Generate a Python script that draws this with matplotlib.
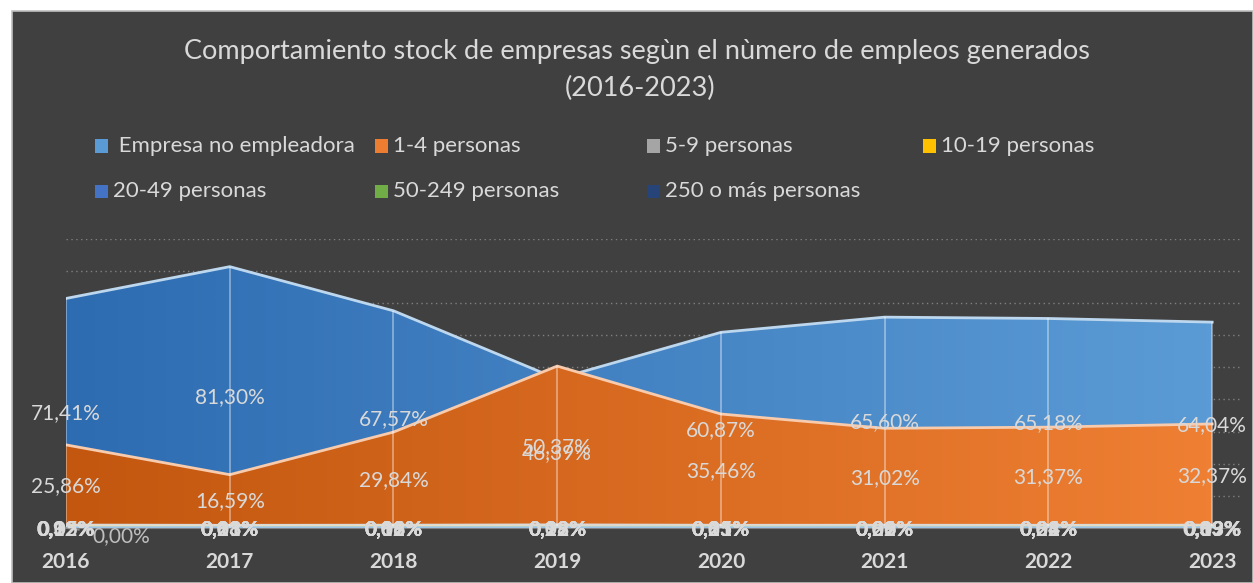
import numpy as np
import matplotlib
matplotlib.use("Agg")
import matplotlib.pyplot as plt
from matplotlib.colors import LinearSegmentedColormap
from matplotlib.patches import Rectangle

years = ["2016", "2017", "2018", "2019", "2020", "2021", "2022", "2023"]
series_names = [" Empresa no empleadora", "1-4 personas", "5-9 personas", "10-19 personas",
                "20-49 personas", "50-249 personas", "250 o más personas"]
no_empleadora = [71.41, 81.30, 67.57, 46.39, 60.87, 65.60, 65.18, 64.04]
p1_4 = [25.86, 16.59, 29.84, 50.37, 35.46, 31.02, 31.37, 32.37]
p5_9 = [0.92, 0.83, 0.88, 0.98, 0.85, 0.86, 0.84, 0.89]
p10_19 = [0.32, 0.28, 0.33, 0.29, 0.31, 0.30, 0.31, 0.33]
p20_49 = [0.12, 0.13, 0.16, 0.22, 0.25, 0.26, 0.21, 0.19]
p50_249 = [0.05, 0.03, 0.09, 0.12, 0.15, 0.09, 0.08, 0.09]
p250 = [0.00, 0.01, 0.02, 0.03, 0.03, 0.02, 0.02, 0.03]
all_series = [no_empleadora, p1_4, p5_9, p10_19, p20_49, p50_249, p250]

legend_colors = ["#5B9BD5", "#ED7D31", "#A5A5A5", "#FFC000", "#4472C4", "#70AD47", "#264478"]
grad_left = ["#2E6CB2", "#C3570F", "#8C8C8C", "#E0A800", "#3A62AA", "#5E9A3A", "#1F3A66"]
grad_right = ["#5B9BD5", "#EE7F33", "#BFBFBF", "#FFD24D", "#5A86D0", "#86C35E", "#33589A"]
edge_colors = ["#BDD7EE", "#F8CBAD", "#D9D9D9", "#FFE699", "#B4C7E7", "#C5E0B4", "#9DC3E6"]

BG = "#404040"
TXT = "#D9D9D9"
W, H = 1253, 583
fig = plt.figure(figsize=(W / 100, H / 100), dpi=100, facecolor="white")
fig.patches.append(Rectangle((12 / W, 0), 1 - 12 / W, 1 - 11 / H, transform=fig.transFigure,
                             facecolor=BG, edgecolor="#BFBFBF", linewidth=1.2, zorder=-10))

left, right = 66 / W, 1240 / W
bottom, top = 1 - 528 / H, 1 - 238.7 / H
ax = fig.add_axes([left, bottom, right - left, top - bottom])
ax.set_zorder(1)
ax.set_facecolor("none")
x = np.arange(len(years))
ax.set_xlim(0, len(years) - 1 + 0.17)
ax.set_ylim(0, 90)

for gy in range(10, 91, 10):
    ax.axhline(gy, color="#808080", linestyle=(0, (1, 2.5)), linewidth=1.0, zorder=1)

for i, vals in enumerate(all_series):
    vals = np.array(vals)
    poly = ax.fill_between(x, 0, vals, color="none", linewidth=0, zorder=2 + i)
    cmap = LinearSegmentedColormap.from_list("g%d" % i, [grad_left[i], grad_right[i]])
    grad = np.linspace(0, 1, 256).reshape(1, -1)
    im = ax.imshow(grad, cmap=cmap, aspect="auto", extent=[0, len(years) - 1, 0, 90],
                   origin="lower", zorder=2 + i, interpolation="bilinear")
    im.set_clip_path(poly.get_paths()[0], transform=ax.transData)
    ax.plot(x, vals, color=edge_colors[i], linewidth=2.0, zorder=2.5 + i, solid_joinstyle="miter")

tops = np.max(np.array(all_series), axis=0)
ax.vlines(x, 0, tops, color="white", alpha=0.4, linewidth=1.3, zorder=20)

for i, vals in enumerate(all_series):
    for xi, v in zip(x, vals):
        lbl = ("%.2f%%" % v).replace(".", ",")
        if i < 2:
            ax.text(xi, v / 2, lbl, ha="center", va="center", color=TXT, fontsize=15,
                    family="Lato", zorder=30, clip_on=False)
        elif i == 6 and xi == 0:
            ax.annotate(lbl, xy=(xi, v), xytext=(0.34, -2.5),
                        textcoords="data", ha="center", va="center", color="#BFBFBF",
                        fontsize=15, family="Lato", zorder=29, annotation_clip=False,
                        arrowprops=dict(arrowstyle="-", color="#8C8C8C", lw=1.2,
                                        shrinkA=8, shrinkB=0))
        else:
            ax.text(xi, -0.6, lbl, ha="center", va="center", color=TXT, fontsize=15,
                    family="Lato", fontweight="bold", zorder=30, clip_on=False)

ax.set_xticks(x)
ax.set_xticklabels(years, color=TXT, fontsize=15, fontweight="bold", family="Lato")
ax.tick_params(axis="x", length=0, pad=17)
ax.set_yticks([])
for s in ["left", "right", "top"]:
    ax.spines[s].set_visible(False)
ax.spines["bottom"].set_color("#7F7F7F")
ax.spines["bottom"].set_zorder(1)

fig.text(637 / W, 1 - 52 / H, "Comportamiento stock de empresas segùn el nùmero de empleos generados",
         ha="center", va="center", color="#D9D9D9", fontsize=19.5, family="Lato")
fig.text(640 / W, 1 - 88 / H, "(2016-2023)", ha="center", va="center", color="#D9D9D9",
         fontsize=19.5, family="Lato")

col_x = [95, 375, 647, 923]
row_y = [146, 191]
for k, name in enumerate(series_names):
    r, c = divmod(k, 4)
    mx, my = col_x[c], row_y[r]
    fig.patches.append(Rectangle((mx / W, 1 - (my + 6.5) / H), 13 / W, 13 / H,
                                 transform=fig.transFigure, facecolor=legend_colors[k],
                                 edgecolor="none", zorder=5))
    fig.text((mx + 18) / W, 1 - my / H, name, ha="left", va="center", color=TXT,
             fontsize=16, family="Lato")

fig.savefig("out.png", dpi=100, facecolor=fig.get_facecolor())
